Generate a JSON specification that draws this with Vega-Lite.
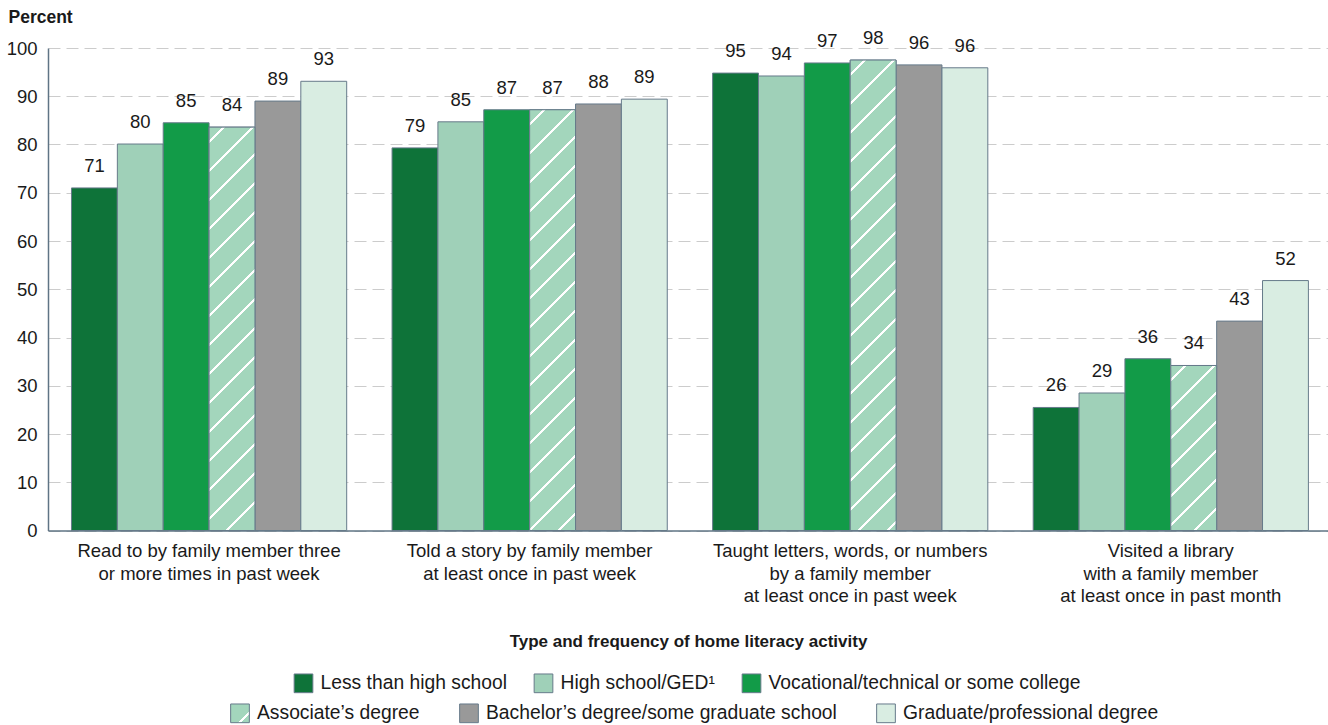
{
  "$schema": "https://vega.github.io/schema/vega-lite/v6.json",
  "width": 1280,
  "height": 482.5,
  "autosize": {"type": "none"},
  "padding": {"left": 48, "top": 48, "right": 0, "bottom": 194},
  "background": "white",
  "config": {
    "view": {"stroke": null},
    "font": "Liberation Sans",
    "legend": {
      "labelFontSize": 19.3,
      "labelColor": "#1a1a1a",
      "labelFont": "Liberation Sans",
      "labelLimit": 600,
      "symbolType": "square",
      "symbolSize": 350,
      "symbolStrokeWidth": 1,
      "symbolStrokeColor": "#667a8a",
      "labelOffset": 7,
      "columnPadding": 24,
      "padding": 0
    }
  },
  "data": {
    "values": [
      {"activity": "Read to by family member three|or more times in past week", "edu": "Less than high school", "value": 71.0, "label": "71"},
      {"activity": "Read to by family member three|or more times in past week", "edu": "High school/GED¹", "value": 80.1, "label": "80"},
      {"activity": "Read to by family member three|or more times in past week", "edu": "Vocational/technical or some college", "value": 84.5, "label": "85"},
      {"activity": "Read to by family member three|or more times in past week", "edu": "Associate’s degree", "value": 83.6, "label": "84"},
      {"activity": "Read to by family member three|or more times in past week", "edu": "Bachelor’s degree/some graduate school", "value": 89.0, "label": "89"},
      {"activity": "Read to by family member three|or more times in past week", "edu": "Graduate/professional degree", "value": 93.1, "label": "93"},
      {"activity": "Told a story by family member|at least once in past week", "edu": "Less than high school", "value": 79.3, "label": "79"},
      {"activity": "Told a story by family member|at least once in past week", "edu": "High school/GED¹", "value": 84.7, "label": "85"},
      {"activity": "Told a story by family member|at least once in past week", "edu": "Vocational/technical or some college", "value": 87.2, "label": "87"},
      {"activity": "Told a story by family member|at least once in past week", "edu": "Associate’s degree", "value": 87.2, "label": "87"},
      {"activity": "Told a story by family member|at least once in past week", "edu": "Bachelor’s degree/some graduate school", "value": 88.4, "label": "88"},
      {"activity": "Told a story by family member|at least once in past week", "edu": "Graduate/professional degree", "value": 89.4, "label": "89"},
      {"activity": "Taught letters, words, or numbers|by a family member|at least once in past week", "edu": "Less than high school", "value": 94.8, "label": "95"},
      {"activity": "Taught letters, words, or numbers|by a family member|at least once in past week", "edu": "High school/GED¹", "value": 94.2, "label": "94"},
      {"activity": "Taught letters, words, or numbers|by a family member|at least once in past week", "edu": "Vocational/technical or some college", "value": 96.9, "label": "97"},
      {"activity": "Taught letters, words, or numbers|by a family member|at least once in past week", "edu": "Associate’s degree", "value": 97.5, "label": "98"},
      {"activity": "Taught letters, words, or numbers|by a family member|at least once in past week", "edu": "Bachelor’s degree/some graduate school", "value": 96.5, "label": "96"},
      {"activity": "Taught letters, words, or numbers|by a family member|at least once in past week", "edu": "Graduate/professional degree", "value": 95.9, "label": "96"},
      {"activity": "Visited a library|with a family member|at least once in past month", "edu": "Less than high school", "value": 25.5, "label": "26"},
      {"activity": "Visited a library|with a family member|at least once in past month", "edu": "High school/GED¹", "value": 28.5, "label": "29"},
      {"activity": "Visited a library|with a family member|at least once in past month", "edu": "Vocational/technical or some college", "value": 35.6, "label": "36"},
      {"activity": "Visited a library|with a family member|at least once in past month", "edu": "Associate’s degree", "value": 34.2, "label": "34"},
      {"activity": "Visited a library|with a family member|at least once in past month", "edu": "Bachelor’s degree/some graduate school", "value": 43.4, "label": "43"},
      {"activity": "Visited a library|with a family member|at least once in past month", "edu": "Graduate/professional degree", "value": 51.8, "label": "52"}
    ]
  },
  "encoding": {
    "x": {
      "field": "activity",
      "type": "nominal",
      "sort": null,
      "scale": {
        "domain": [
          "Read to by family member three|or more times in past week",
          "Told a story by family member|at least once in past week",
          "Taught letters, words, or numbers|by a family member|at least once in past week",
          "Visited a library|with a family member|at least once in past month"
        ],
        "paddingInner": 0.1415,
        "paddingOuter": 0.0672,
        "align": 0.545
      },
      "axis": {
        "title": "Type and frequency of home literacy activity",
        "titleFontSize": 17,
        "titleFontWeight": "bold",
        "titleColor": "#1a1a1a",
        "titlePadding": 28,
        "labelExpr": "split(datum.label, '|')",
        "labelFontSize": 18.5,
        "labelLineHeight": 22.5,
        "labelPadding": 11,
        "labelAngle": 0,
        "labelLimit": 500,
        "labelColor": "#1a1a1a",
        "ticks": false,
        "domainColor": "#5f7485",
        "domainWidth": 1.5
      }
    },
    "xOffset": {
      "field": "edu",
      "type": "nominal",
      "sort": null,
      "scale": {
        "domain": ["Less than high school", "High school/GED¹", "Vocational/technical or some college", "Associate’s degree", "Bachelor’s degree/some graduate school", "Graduate/professional degree"],
        "paddingInner": 0,
        "paddingOuter": 0
      }
    },
    "y": {
      "field": "value",
      "type": "quantitative",
      "scale": {"domain": [0, 100], "nice": false},
      "axis": {
        "values": [0, 10, 20, 30, 40, 50, 60, 70, 80, 90, 100],
        "title": "Percent",
        "titleAngle": 0,
        "titleAlign": "left",
        "titleBaseline": "alphabetic",
        "titleX": -40,
        "titleY": -26,
        "titleFontSize": 17.5,
        "titleFontWeight": "bold",
        "titleColor": "#1a1a1a",
        "labelFontSize": 18.5,
        "labelColor": "#1a1a1a",
        "labelPadding": 11,
        "ticks": false,
        "grid": true,
        "gridDash": [12, 6],
        "gridColor": "#cccccc",
        "domainColor": "#5f7485",
        "domainWidth": 1.5
      }
    }
  },
  "layer": [
    {
      "transform": [{"filter": {"field": "edu", "oneOf": ["Less than high school", "High school/GED¹", "Vocational/technical or some college"]}}],
      "mark": {"type": "bar", "stroke": "#667a8a", "strokeWidth": 1},
      "encoding": {
        "color": {
          "field": "edu",
          "type": "nominal",
          "scale": {
            "domain": ["Less than high school", "High school/GED¹", "Vocational/technical or some college"],
            "range": ["#0e7339", "#9fd0b8", "#129b48"]
          },
          "legend": {"orient": "none", "legendX": 245.5, "legendY": 625, "direction": "horizontal", "columns": 3, "title": null}
        }
      }
    },
    {
      "transform": [{"filter": {"field": "edu", "oneOf": ["Associate’s degree", "Bachelor’s degree/some graduate school", "Graduate/professional degree"]}}],
      "mark": {"type": "bar", "stroke": "#667a8a", "strokeWidth": 1},
      "encoding": {
        "color": {
          "field": "edu",
          "type": "nominal",
          "scale": {
            "domain": ["Associate’s degree", "Bachelor’s degree/some graduate school", "Graduate/professional degree"],
            "range": [
              {"expr": "{gradient: 'linear', x1: 0, y1: 0, x2: 1, y2: 1, stops: [{offset: 0, color: '#a3d6bc'}, {offset: 0.70, color: '#a3d6bc'}, {offset: 0.70, color: '#ffffff'}, {offset: 0.77, color: '#ffffff'}, {offset: 0.77, color: '#a3d6bc'}, {offset: 1, color: '#a3d6bc'}]}"},
              "#999999",
              "#d9ede2"
            ]
          },
          "legend": {"orient": "none", "legendX": 182, "legendY": 655, "direction": "horizontal", "columns": 3, "columnPadding": 37, "title": null}
        }
      }
    },
    {
      "transform": [{"filter": {"and": [{"field": "edu", "equal": "Associate’s degree"}, {"field": "activity", "equal": "Read to by family member three|or more times in past week"}]}}],
      "mark": {"type": "bar", "stroke": "#667a8a", "strokeWidth": 1, "fill": {"gradient": "linear", "x1": 0, "y1": 0, "x2": 0.1615, "y2": 1.41941, "stops": [
        {"offset": 0, "color": "#a3d6bc"},
        {"offset": 0.0224, "color": "#a3d6bc"}, {"offset": 0.0224, "color": "#ffffff"}, {"offset": 0.0276, "color": "#ffffff"}, {"offset": 0.0276, "color": "#a3d6bc"},
        {"offset": 0.0724, "color": "#a3d6bc"}, {"offset": 0.0724, "color": "#ffffff"}, {"offset": 0.0776, "color": "#ffffff"}, {"offset": 0.0776, "color": "#a3d6bc"},
        {"offset": 0.1224, "color": "#a3d6bc"}, {"offset": 0.1224, "color": "#ffffff"}, {"offset": 0.1276, "color": "#ffffff"}, {"offset": 0.1276, "color": "#a3d6bc"},
        {"offset": 0.1724, "color": "#a3d6bc"}, {"offset": 0.1724, "color": "#ffffff"}, {"offset": 0.1776, "color": "#ffffff"}, {"offset": 0.1776, "color": "#a3d6bc"},
        {"offset": 0.2224, "color": "#a3d6bc"}, {"offset": 0.2224, "color": "#ffffff"}, {"offset": 0.2276, "color": "#ffffff"}, {"offset": 0.2276, "color": "#a3d6bc"},
        {"offset": 0.2724, "color": "#a3d6bc"}, {"offset": 0.2724, "color": "#ffffff"}, {"offset": 0.2776, "color": "#ffffff"}, {"offset": 0.2776, "color": "#a3d6bc"},
        {"offset": 0.3224, "color": "#a3d6bc"}, {"offset": 0.3224, "color": "#ffffff"}, {"offset": 0.3276, "color": "#ffffff"}, {"offset": 0.3276, "color": "#a3d6bc"},
        {"offset": 0.3724, "color": "#a3d6bc"}, {"offset": 0.3724, "color": "#ffffff"}, {"offset": 0.3776, "color": "#ffffff"}, {"offset": 0.3776, "color": "#a3d6bc"},
        {"offset": 0.4224, "color": "#a3d6bc"}, {"offset": 0.4224, "color": "#ffffff"}, {"offset": 0.4276, "color": "#ffffff"}, {"offset": 0.4276, "color": "#a3d6bc"},
        {"offset": 0.4724, "color": "#a3d6bc"}, {"offset": 0.4724, "color": "#ffffff"}, {"offset": 0.4776, "color": "#ffffff"}, {"offset": 0.4776, "color": "#a3d6bc"},
        {"offset": 0.5224, "color": "#a3d6bc"}, {"offset": 0.5224, "color": "#ffffff"}, {"offset": 0.5276, "color": "#ffffff"}, {"offset": 0.5276, "color": "#a3d6bc"},
        {"offset": 0.5724, "color": "#a3d6bc"}, {"offset": 0.5724, "color": "#ffffff"}, {"offset": 0.5776, "color": "#ffffff"}, {"offset": 0.5776, "color": "#a3d6bc"},
        {"offset": 0.6224, "color": "#a3d6bc"}, {"offset": 0.6224, "color": "#ffffff"}, {"offset": 0.6276, "color": "#ffffff"}, {"offset": 0.6276, "color": "#a3d6bc"},
        {"offset": 0.6724, "color": "#a3d6bc"}, {"offset": 0.6724, "color": "#ffffff"}, {"offset": 0.6776, "color": "#ffffff"}, {"offset": 0.6776, "color": "#a3d6bc"},
        {"offset": 0.7224, "color": "#a3d6bc"}, {"offset": 0.7224, "color": "#ffffff"}, {"offset": 0.7276, "color": "#ffffff"}, {"offset": 0.7276, "color": "#a3d6bc"},
        {"offset": 0.7724, "color": "#a3d6bc"}, {"offset": 0.7724, "color": "#ffffff"}, {"offset": 0.7776, "color": "#ffffff"}, {"offset": 0.7776, "color": "#a3d6bc"},
        {"offset": 0.8224, "color": "#a3d6bc"}, {"offset": 0.8224, "color": "#ffffff"}, {"offset": 0.8276, "color": "#ffffff"}, {"offset": 0.8276, "color": "#a3d6bc"},
        {"offset": 0.8724, "color": "#a3d6bc"}, {"offset": 0.8724, "color": "#ffffff"}, {"offset": 0.8776, "color": "#ffffff"}, {"offset": 0.8776, "color": "#a3d6bc"},
        {"offset": 0.9224, "color": "#a3d6bc"}, {"offset": 0.9224, "color": "#ffffff"}, {"offset": 0.9276, "color": "#ffffff"}, {"offset": 0.9276, "color": "#a3d6bc"},
        {"offset": 0.9724, "color": "#a3d6bc"}, {"offset": 0.9724, "color": "#ffffff"}, {"offset": 0.9776, "color": "#ffffff"}, {"offset": 0.9776, "color": "#a3d6bc"},
        {"offset": 1, "color": "#a3d6bc"}
      ]}}
    },
    {
      "transform": [{"filter": {"and": [{"field": "edu", "equal": "Associate’s degree"}, {"field": "activity", "equal": "Told a story by family member|at least once in past week"}]}}],
      "mark": {"type": "bar", "stroke": "#667a8a", "strokeWidth": 1, "fill": {"gradient": "linear", "x1": 0, "y1": 0, "x2": 0.14862, "y2": 1.36232, "stops": [
        {"offset": 0, "color": "#a3d6bc"},
        {"offset": 0.0224, "color": "#a3d6bc"}, {"offset": 0.0224, "color": "#ffffff"}, {"offset": 0.0276, "color": "#ffffff"}, {"offset": 0.0276, "color": "#a3d6bc"},
        {"offset": 0.0724, "color": "#a3d6bc"}, {"offset": 0.0724, "color": "#ffffff"}, {"offset": 0.0776, "color": "#ffffff"}, {"offset": 0.0776, "color": "#a3d6bc"},
        {"offset": 0.1224, "color": "#a3d6bc"}, {"offset": 0.1224, "color": "#ffffff"}, {"offset": 0.1276, "color": "#ffffff"}, {"offset": 0.1276, "color": "#a3d6bc"},
        {"offset": 0.1724, "color": "#a3d6bc"}, {"offset": 0.1724, "color": "#ffffff"}, {"offset": 0.1776, "color": "#ffffff"}, {"offset": 0.1776, "color": "#a3d6bc"},
        {"offset": 0.2224, "color": "#a3d6bc"}, {"offset": 0.2224, "color": "#ffffff"}, {"offset": 0.2276, "color": "#ffffff"}, {"offset": 0.2276, "color": "#a3d6bc"},
        {"offset": 0.2724, "color": "#a3d6bc"}, {"offset": 0.2724, "color": "#ffffff"}, {"offset": 0.2776, "color": "#ffffff"}, {"offset": 0.2776, "color": "#a3d6bc"},
        {"offset": 0.3224, "color": "#a3d6bc"}, {"offset": 0.3224, "color": "#ffffff"}, {"offset": 0.3276, "color": "#ffffff"}, {"offset": 0.3276, "color": "#a3d6bc"},
        {"offset": 0.3724, "color": "#a3d6bc"}, {"offset": 0.3724, "color": "#ffffff"}, {"offset": 0.3776, "color": "#ffffff"}, {"offset": 0.3776, "color": "#a3d6bc"},
        {"offset": 0.4224, "color": "#a3d6bc"}, {"offset": 0.4224, "color": "#ffffff"}, {"offset": 0.4276, "color": "#ffffff"}, {"offset": 0.4276, "color": "#a3d6bc"},
        {"offset": 0.4724, "color": "#a3d6bc"}, {"offset": 0.4724, "color": "#ffffff"}, {"offset": 0.4776, "color": "#ffffff"}, {"offset": 0.4776, "color": "#a3d6bc"},
        {"offset": 0.5224, "color": "#a3d6bc"}, {"offset": 0.5224, "color": "#ffffff"}, {"offset": 0.5276, "color": "#ffffff"}, {"offset": 0.5276, "color": "#a3d6bc"},
        {"offset": 0.5724, "color": "#a3d6bc"}, {"offset": 0.5724, "color": "#ffffff"}, {"offset": 0.5776, "color": "#ffffff"}, {"offset": 0.5776, "color": "#a3d6bc"},
        {"offset": 0.6224, "color": "#a3d6bc"}, {"offset": 0.6224, "color": "#ffffff"}, {"offset": 0.6276, "color": "#ffffff"}, {"offset": 0.6276, "color": "#a3d6bc"},
        {"offset": 0.6724, "color": "#a3d6bc"}, {"offset": 0.6724, "color": "#ffffff"}, {"offset": 0.6776, "color": "#ffffff"}, {"offset": 0.6776, "color": "#a3d6bc"},
        {"offset": 0.7224, "color": "#a3d6bc"}, {"offset": 0.7224, "color": "#ffffff"}, {"offset": 0.7276, "color": "#ffffff"}, {"offset": 0.7276, "color": "#a3d6bc"},
        {"offset": 0.7724, "color": "#a3d6bc"}, {"offset": 0.7724, "color": "#ffffff"}, {"offset": 0.7776, "color": "#ffffff"}, {"offset": 0.7776, "color": "#a3d6bc"},
        {"offset": 0.8224, "color": "#a3d6bc"}, {"offset": 0.8224, "color": "#ffffff"}, {"offset": 0.8276, "color": "#ffffff"}, {"offset": 0.8276, "color": "#a3d6bc"},
        {"offset": 0.8724, "color": "#a3d6bc"}, {"offset": 0.8724, "color": "#ffffff"}, {"offset": 0.8776, "color": "#ffffff"}, {"offset": 0.8776, "color": "#a3d6bc"},
        {"offset": 0.9224, "color": "#a3d6bc"}, {"offset": 0.9224, "color": "#ffffff"}, {"offset": 0.9276, "color": "#ffffff"}, {"offset": 0.9276, "color": "#a3d6bc"},
        {"offset": 0.9724, "color": "#a3d6bc"}, {"offset": 0.9724, "color": "#ffffff"}, {"offset": 0.9776, "color": "#ffffff"}, {"offset": 0.9776, "color": "#a3d6bc"},
        {"offset": 1, "color": "#a3d6bc"}
      ]}}
    },
    {
      "transform": [{"filter": {"and": [{"field": "edu", "equal": "Associate’s degree"}, {"field": "activity", "equal": "Taught letters, words, or numbers|by a family member|at least once in past week"}]}}],
      "mark": {"type": "bar", "stroke": "#667a8a", "strokeWidth": 1, "fill": {"gradient": "linear", "x1": 0, "y1": 0, "x2": 0.11916, "y2": 1.22126, "stops": [
        {"offset": 0, "color": "#a3d6bc"},
        {"offset": 0.0224, "color": "#a3d6bc"}, {"offset": 0.0224, "color": "#ffffff"}, {"offset": 0.0276, "color": "#ffffff"}, {"offset": 0.0276, "color": "#a3d6bc"},
        {"offset": 0.0724, "color": "#a3d6bc"}, {"offset": 0.0724, "color": "#ffffff"}, {"offset": 0.0776, "color": "#ffffff"}, {"offset": 0.0776, "color": "#a3d6bc"},
        {"offset": 0.1224, "color": "#a3d6bc"}, {"offset": 0.1224, "color": "#ffffff"}, {"offset": 0.1276, "color": "#ffffff"}, {"offset": 0.1276, "color": "#a3d6bc"},
        {"offset": 0.1724, "color": "#a3d6bc"}, {"offset": 0.1724, "color": "#ffffff"}, {"offset": 0.1776, "color": "#ffffff"}, {"offset": 0.1776, "color": "#a3d6bc"},
        {"offset": 0.2224, "color": "#a3d6bc"}, {"offset": 0.2224, "color": "#ffffff"}, {"offset": 0.2276, "color": "#ffffff"}, {"offset": 0.2276, "color": "#a3d6bc"},
        {"offset": 0.2724, "color": "#a3d6bc"}, {"offset": 0.2724, "color": "#ffffff"}, {"offset": 0.2776, "color": "#ffffff"}, {"offset": 0.2776, "color": "#a3d6bc"},
        {"offset": 0.3224, "color": "#a3d6bc"}, {"offset": 0.3224, "color": "#ffffff"}, {"offset": 0.3276, "color": "#ffffff"}, {"offset": 0.3276, "color": "#a3d6bc"},
        {"offset": 0.3724, "color": "#a3d6bc"}, {"offset": 0.3724, "color": "#ffffff"}, {"offset": 0.3776, "color": "#ffffff"}, {"offset": 0.3776, "color": "#a3d6bc"},
        {"offset": 0.4224, "color": "#a3d6bc"}, {"offset": 0.4224, "color": "#ffffff"}, {"offset": 0.4276, "color": "#ffffff"}, {"offset": 0.4276, "color": "#a3d6bc"},
        {"offset": 0.4724, "color": "#a3d6bc"}, {"offset": 0.4724, "color": "#ffffff"}, {"offset": 0.4776, "color": "#ffffff"}, {"offset": 0.4776, "color": "#a3d6bc"},
        {"offset": 0.5224, "color": "#a3d6bc"}, {"offset": 0.5224, "color": "#ffffff"}, {"offset": 0.5276, "color": "#ffffff"}, {"offset": 0.5276, "color": "#a3d6bc"},
        {"offset": 0.5724, "color": "#a3d6bc"}, {"offset": 0.5724, "color": "#ffffff"}, {"offset": 0.5776, "color": "#ffffff"}, {"offset": 0.5776, "color": "#a3d6bc"},
        {"offset": 0.6224, "color": "#a3d6bc"}, {"offset": 0.6224, "color": "#ffffff"}, {"offset": 0.6276, "color": "#ffffff"}, {"offset": 0.6276, "color": "#a3d6bc"},
        {"offset": 0.6724, "color": "#a3d6bc"}, {"offset": 0.6724, "color": "#ffffff"}, {"offset": 0.6776, "color": "#ffffff"}, {"offset": 0.6776, "color": "#a3d6bc"},
        {"offset": 0.7224, "color": "#a3d6bc"}, {"offset": 0.7224, "color": "#ffffff"}, {"offset": 0.7276, "color": "#ffffff"}, {"offset": 0.7276, "color": "#a3d6bc"},
        {"offset": 0.7724, "color": "#a3d6bc"}, {"offset": 0.7724, "color": "#ffffff"}, {"offset": 0.7776, "color": "#ffffff"}, {"offset": 0.7776, "color": "#a3d6bc"},
        {"offset": 0.8224, "color": "#a3d6bc"}, {"offset": 0.8224, "color": "#ffffff"}, {"offset": 0.8276, "color": "#ffffff"}, {"offset": 0.8276, "color": "#a3d6bc"},
        {"offset": 0.8724, "color": "#a3d6bc"}, {"offset": 0.8724, "color": "#ffffff"}, {"offset": 0.8776, "color": "#ffffff"}, {"offset": 0.8776, "color": "#a3d6bc"},
        {"offset": 0.9224, "color": "#a3d6bc"}, {"offset": 0.9224, "color": "#ffffff"}, {"offset": 0.9276, "color": "#ffffff"}, {"offset": 0.9276, "color": "#a3d6bc"},
        {"offset": 0.9724, "color": "#a3d6bc"}, {"offset": 0.9724, "color": "#ffffff"}, {"offset": 0.9776, "color": "#ffffff"}, {"offset": 0.9776, "color": "#a3d6bc"},
        {"offset": 1, "color": "#a3d6bc"}
      ]}}
    },
    {
      "transform": [{"filter": {"and": [{"field": "edu", "equal": "Associate’s degree"}, {"field": "activity", "equal": "Visited a library|with a family member|at least once in past month"}]}}],
      "mark": {"type": "bar", "stroke": "#667a8a", "strokeWidth": 1, "fill": {"gradient": "linear", "x1": 0, "y1": 0, "x2": 0.90741, "y2": 3.26234, "stops": [
        {"offset": 0, "color": "#a3d6bc"},
        {"offset": 0.0224, "color": "#a3d6bc"}, {"offset": 0.0224, "color": "#ffffff"}, {"offset": 0.0276, "color": "#ffffff"}, {"offset": 0.0276, "color": "#a3d6bc"},
        {"offset": 0.0724, "color": "#a3d6bc"}, {"offset": 0.0724, "color": "#ffffff"}, {"offset": 0.0776, "color": "#ffffff"}, {"offset": 0.0776, "color": "#a3d6bc"},
        {"offset": 0.1224, "color": "#a3d6bc"}, {"offset": 0.1224, "color": "#ffffff"}, {"offset": 0.1276, "color": "#ffffff"}, {"offset": 0.1276, "color": "#a3d6bc"},
        {"offset": 0.1724, "color": "#a3d6bc"}, {"offset": 0.1724, "color": "#ffffff"}, {"offset": 0.1776, "color": "#ffffff"}, {"offset": 0.1776, "color": "#a3d6bc"},
        {"offset": 0.2224, "color": "#a3d6bc"}, {"offset": 0.2224, "color": "#ffffff"}, {"offset": 0.2276, "color": "#ffffff"}, {"offset": 0.2276, "color": "#a3d6bc"},
        {"offset": 0.2724, "color": "#a3d6bc"}, {"offset": 0.2724, "color": "#ffffff"}, {"offset": 0.2776, "color": "#ffffff"}, {"offset": 0.2776, "color": "#a3d6bc"},
        {"offset": 0.3224, "color": "#a3d6bc"}, {"offset": 0.3224, "color": "#ffffff"}, {"offset": 0.3276, "color": "#ffffff"}, {"offset": 0.3276, "color": "#a3d6bc"},
        {"offset": 0.3724, "color": "#a3d6bc"}, {"offset": 0.3724, "color": "#ffffff"}, {"offset": 0.3776, "color": "#ffffff"}, {"offset": 0.3776, "color": "#a3d6bc"},
        {"offset": 0.4224, "color": "#a3d6bc"}, {"offset": 0.4224, "color": "#ffffff"}, {"offset": 0.4276, "color": "#ffffff"}, {"offset": 0.4276, "color": "#a3d6bc"},
        {"offset": 0.4724, "color": "#a3d6bc"}, {"offset": 0.4724, "color": "#ffffff"}, {"offset": 0.4776, "color": "#ffffff"}, {"offset": 0.4776, "color": "#a3d6bc"},
        {"offset": 0.5224, "color": "#a3d6bc"}, {"offset": 0.5224, "color": "#ffffff"}, {"offset": 0.5276, "color": "#ffffff"}, {"offset": 0.5276, "color": "#a3d6bc"},
        {"offset": 0.5724, "color": "#a3d6bc"}, {"offset": 0.5724, "color": "#ffffff"}, {"offset": 0.5776, "color": "#ffffff"}, {"offset": 0.5776, "color": "#a3d6bc"},
        {"offset": 0.6224, "color": "#a3d6bc"}, {"offset": 0.6224, "color": "#ffffff"}, {"offset": 0.6276, "color": "#ffffff"}, {"offset": 0.6276, "color": "#a3d6bc"},
        {"offset": 0.6724, "color": "#a3d6bc"}, {"offset": 0.6724, "color": "#ffffff"}, {"offset": 0.6776, "color": "#ffffff"}, {"offset": 0.6776, "color": "#a3d6bc"},
        {"offset": 0.7224, "color": "#a3d6bc"}, {"offset": 0.7224, "color": "#ffffff"}, {"offset": 0.7276, "color": "#ffffff"}, {"offset": 0.7276, "color": "#a3d6bc"},
        {"offset": 0.7724, "color": "#a3d6bc"}, {"offset": 0.7724, "color": "#ffffff"}, {"offset": 0.7776, "color": "#ffffff"}, {"offset": 0.7776, "color": "#a3d6bc"},
        {"offset": 0.8224, "color": "#a3d6bc"}, {"offset": 0.8224, "color": "#ffffff"}, {"offset": 0.8276, "color": "#ffffff"}, {"offset": 0.8276, "color": "#a3d6bc"},
        {"offset": 0.8724, "color": "#a3d6bc"}, {"offset": 0.8724, "color": "#ffffff"}, {"offset": 0.8776, "color": "#ffffff"}, {"offset": 0.8776, "color": "#a3d6bc"},
        {"offset": 0.9224, "color": "#a3d6bc"}, {"offset": 0.9224, "color": "#ffffff"}, {"offset": 0.9276, "color": "#ffffff"}, {"offset": 0.9276, "color": "#a3d6bc"},
        {"offset": 0.9724, "color": "#a3d6bc"}, {"offset": 0.9724, "color": "#ffffff"}, {"offset": 0.9776, "color": "#ffffff"}, {"offset": 0.9776, "color": "#a3d6bc"},
        {"offset": 1, "color": "#a3d6bc"}
      ]}}
    },
    {
      "mark": {"type": "text", "dy": -16, "baseline": "alphabetic", "fontSize": 18.5, "color": "#1a1a1a", "font": "Liberation Sans"},
      "encoding": {"text": {"field": "label"}}
    }
  ],
  "resolve": {"scale": {"color": "independent"}, "legend": {"color": "independent"}}
}
